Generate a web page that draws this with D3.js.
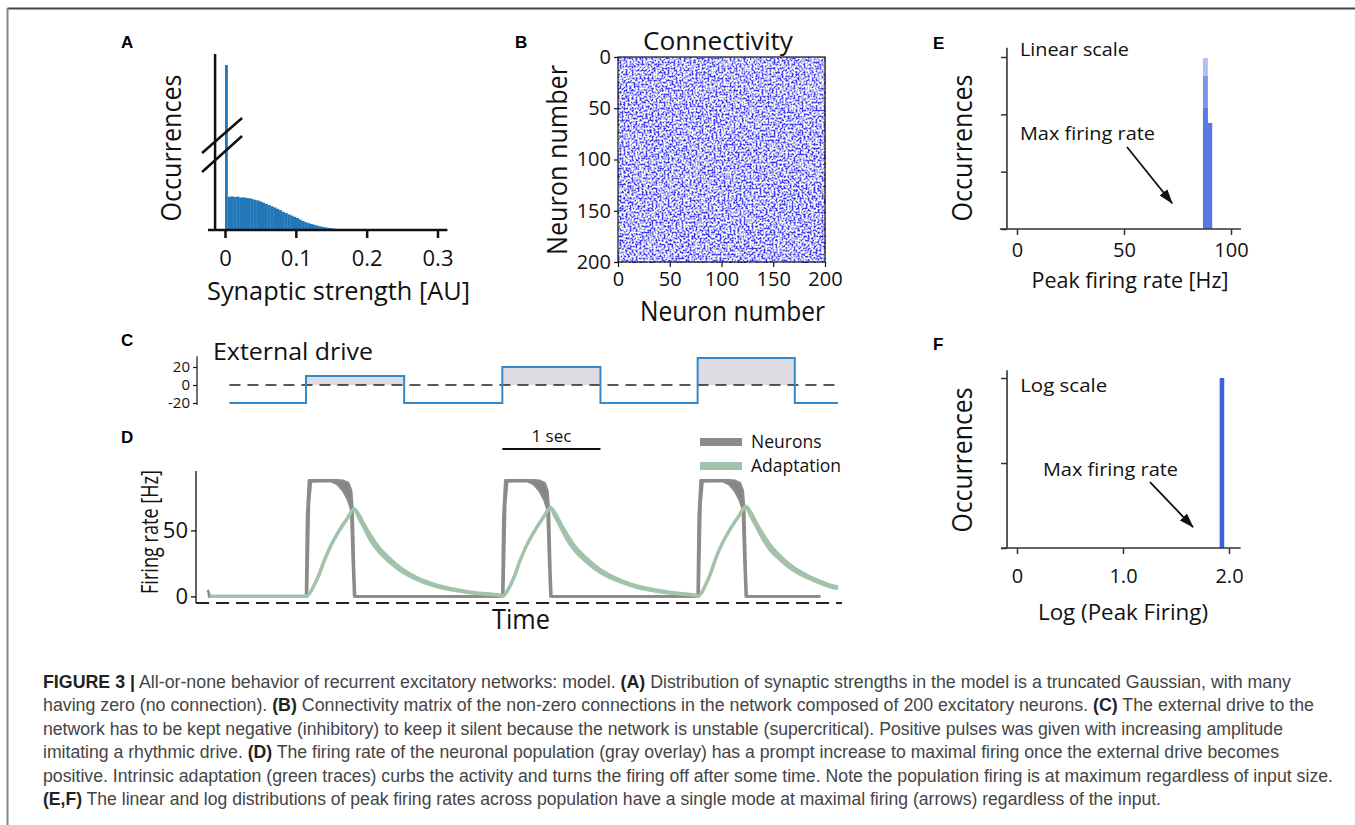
<!DOCTYPE html>
<html lang="en">
<head>
  <meta charset="UTF-8" />
  <title>Figure 3 - recurrent excitatory network model</title>
  <script src="https://d3js.org/d3.v7.min.js"></script>
  <style>
    body { margin: 0; background: #fff; }
    svg { display: block; font-family: "Open Sans", "Noto Sans", sans-serif; }
    .plabel { font-family: "Liberation Sans", Arial, sans-serif; font-weight: bold; font-size: 17px; }
    .cap { font-family: "Liberation Sans Narrow", "Liberation Sans", sans-serif; font-size: 17.5px; fill: #444; }
    .cap .b { font-weight: bold; fill: #222; }
  </style>
</head>
<body>
  <svg id="fig" width="1355" height="825"></svg>

  <script>
    // ---- A: synaptic strength histogram (bin width 0.004, first bin = zero weights)
    const strengthBinWidth = 0.004;
    const strengthCounts = [20000, 333, 336, 330, 334, 325, 327, 321, 318, 312, 302, 296, 286, 274, 262,
      250, 238, 226, 212, 198, 182, 170, 157, 145, 132, 120, 104, 90, 78, 68, 60, 52, 44, 37, 31,
      26, 21, 17, 14, 11, 9, 7, 5, 4, 3, 2];
    const strengthTicks = [0, 0.1, 0.2, 0.3];

    // ---- B: connectivity, mean density of 25x25 neuron blocks
    const connBlock = 25;
    const connDensity = [
      [0.88, 0.92, 0.86, 0.90, 0.84, 0.88, 0.90, 0.86],
      [0.92, 0.88, 0.90, 0.86, 0.90, 0.92, 0.86, 0.84],
      [0.90, 0.94, 0.88, 0.92, 0.88, 0.86, 0.90, 0.88],
      [0.86, 0.90, 0.92, 0.88, 0.92, 0.90, 0.88, 0.92],
      [0.90, 0.88, 0.86, 0.90, 0.88, 0.92, 0.90, 0.86],
      [0.92, 0.90, 0.88, 0.86, 0.90, 0.88, 0.92, 0.90],
      [0.88, 0.92, 0.90, 0.92, 0.86, 0.90, 0.88, 0.92],
      [0.90, 0.86, 0.92, 0.88, 0.90, 0.92, 0.86, 0.90]
    ];
    const neuronTicks = [0, 50, 100, 150, 200];

    // ---- C: external drive (step function, seconds)
    const driveT = [0.3, 1.08, 2.08, 3.08, 4.08, 5.07, 6.06, 6.5];
    const driveV = [-20, 10, -20, 20, -20, 30, -20, -20];
    const driveTicks = [20, 0, -20];

    // ---- D: firing rate envelope of the population and adaptation
    const neuronT = [0.08, 0.10,
      1.08, 1.09, 1.11, 1.13, 1.33, 1.40, 1.46, 1.51, 1.54, 1.555, 1.57, 1.58,
      3.08, 3.09, 3.11, 3.13, 3.33, 3.40, 3.46, 3.51, 3.54, 3.555, 3.57, 3.58,
      5.07, 5.08, 5.10, 5.12, 5.32, 5.39, 5.45, 5.50, 5.53, 5.545, 5.56, 5.57,
      6.32];
    const neuronLo = [0, 0,
      0, 0, 70, 87, 87.5, 85, 80, 73, 66, 30, 0, 0,
      0, 0, 70, 87, 87.5, 85, 80, 73, 66, 30, 0, 0,
      0, 0, 70, 87, 87.5, 85, 80, 73, 66, 30, 0, 0,
      0];
    const neuronHi = [5, 0,
      0, 60, 88, 88, 88, 88, 87.5, 86, 80, 65, 20, 0,
      0, 60, 88, 88, 88, 88, 87.5, 86, 80, 65, 20, 0,
      0, 60, 88, 88, 88, 88, 87.5, 86, 80, 65, 20, 0,
      0];
    const adaptT = [0.10,
      1.08, 1.13, 1.16, 1.21, 1.26, 1.33, 1.42, 1.50, 1.57, 1.62, 1.67, 1.74, 1.82, 1.93, 2.03, 2.13, 2.28, 2.44, 2.64, 2.84, 3.05,
      3.08, 3.13, 3.16, 3.21, 3.26, 3.33, 3.42, 3.50, 3.57, 3.62, 3.67, 3.74, 3.82, 3.93, 4.03, 4.13, 4.28, 4.44, 4.64, 4.84, 5.04,
      5.07, 5.12, 5.15, 5.20, 5.25, 5.32, 5.41, 5.49, 5.56, 5.61, 5.66, 5.73, 5.81, 5.92, 6.02, 6.12, 6.27, 6.43, 6.5];
    const adaptLo = [0,
      0, 4, 8, 16, 26, 38, 50, 59, 65.5, 59, 52, 42, 34, 26, 20, 15.5, 10.5, 6.8, 4, 2, 0.8,
      0, 4, 8, 16.5, 27, 39, 51, 60, 66.5, 60, 53, 43, 34.5, 26.5, 20.5, 16, 11, 7, 4, 2, 0.8,
      0, 4, 8.5, 17, 28, 40, 52, 61, 67.5, 61, 54, 44, 35, 27, 21, 16.5, 11.5, 7, 6];
    const adaptHi = [0,
      0, 4, 8, 16, 26, 38, 50, 59, 66.5, 62, 55, 46, 37.5, 29, 22.5, 17.5, 12, 8, 4.8, 2.6, 1,
      0, 4, 8, 16.5, 27, 39, 51, 60, 67.5, 63, 56, 47, 38, 29.5, 23, 18, 12.5, 8.2, 5, 2.7, 1,
      0, 4, 8.5, 17, 28, 40, 52, 61, 68.5, 64, 57, 48, 39, 30, 23.5, 18.5, 13, 8.5, 7.3];
    const rateTicks = [0, 50];
    const scaleBar = [3.08, 4.08];

    // ---- E, F: peak firing rate histograms (three overlaid pulses in E)
    const peakBins = [[86.9, 89.2], [89.2, 91.2]];
    const peakCounts = [[2.98, 1.85], [2.67, 1.85], [2.11, 1.85]];
    const logBins = [[1.912, 1.955]];
    const logCounts = [2];
    const linTicks = [0, 50, 100];
    const logTicks = [0, 1, 2];

    const svg = d3.select("#fig");
    svg.append("rect").attr("width", 1355).attr("height", 825).attr("fill", "#fff");

    // figure frame
    svg.append("line").attr("x1", 7.5).attr("x2", 1355).attr("y1", 8.5).attr("y2", 8.5)
      .attr("stroke", "#444").attr("stroke-width", 2);
    svg.append("line").attr("x1", 7.5).attr("x2", 7.5).attr("y1", 8).attr("y2", 825)
      .attr("stroke", "#888").attr("stroke-width", 2);

    function axisStyle(g, size, color, width) {
      g.attr("font-family", null).attr("font-size", null);
      g.selectAll(".tick line").attr("stroke", color).attr("stroke-width", width);
      g.selectAll(".tick text").attr("fill", color).style("font-size", size + "px");
      g.select(".domain").remove();
    }

    function title(x, y, txt, size, width, rotate) {
      const t = svg.append("text")
        .attr("text-anchor", "middle")
        .style("font-size", size + "px")
        .attr("fill", "#111")
        .text(txt);
      if (rotate) {
        t.attr("transform", `translate(${x},${y}) rotate(-90)`).attr("dy", "0.35em");
      } else {
        t.attr("x", x).attr("y", y);
      }
      if (width) t.attr("textLength", width).attr("lengthAdjust", "spacingAndGlyphs");
      return t;
    }

    [["A", 121, 48], ["B", 515, 48], ["C", 121, 346], ["D", 121, 443], ["E", 933, 49], ["F", 933, 350]]
      .forEach(([s, x, y]) => svg.append("text").attr("class", "plabel").attr("x", x).attr("y", y).text(s));

    // ================= A =================
    const xA = d3.scaleLinear().domain([0, 0.3]).range([225, 437.5]);
    const yA = d3.scaleLinear().domain([0, 600, 15000, 20000]).range([230, 170, 120, 65]);
    const aBins = strengthCounts.map((c, i) => ({ x0: i * strengthBinWidth, x1: (i + 1) * strengthBinWidth, c }));

    svg.append("g").selectAll("rect").data(aBins).join("rect")
      .attr("x", d => xA(d.x0))
      .attr("width", d => xA(d.x1) - xA(d.x0) + (d.x0 === 0 ? 0 : 0.3))
      .attr("y", d => yA(d.c))
      .attr("height", d => yA(0) - yA(d.c))
      .attr("fill", "#2177b8");

    const axA = svg.append("g").attr("transform", `translate(0,${yA(0)})`)
      .call(d3.axisBottom(xA).tickValues(strengthTicks)
        .tickFormat(d => d === 0 ? "0" : d3.format(".1f")(d)).tickSize(8).tickPadding(12));
    axisStyle(axA, 22, "#111", 2.5);
    svg.append("line").attr("x1", xA(-0.024)).attr("x2", xA(0.314)).attr("y1", yA(0)).attr("y2", yA(0))
      .attr("stroke", "#111").attr("stroke-width", 2.5);
    const axAx = xA(-0.014);
    svg.append("line").attr("x1", axAx).attr("x2", axAx).attr("y1", yA(0)).attr("y2", yA(21000))
      .attr("stroke", "#111").attr("stroke-width", 2.5);
    // axis break marks
    [[153, 118], [172, 136]].forEach(([ya, yb]) => {
      svg.append("line").attr("x1", axAx - 13).attr("y1", ya).attr("x2", axAx + 27).attr("y2", yb)
        .attr("stroke", "#111").attr("stroke-width", 2.5);
    });
    title(338.5, 300, "Synaptic strength [AU]", 26, 263);
    title(172, 148, "Occurrences", 27, 147, true);

    // ================= B =================
    const xB = d3.scaleLinear().domain([0, 200]).range([618, 825]);
    const yB = d3.scaleLinear().domain([0, 200]).range([57, 262]);

    const defs = svg.append("defs");
    const sp = defs.append("filter").attr("id", "speckle")
      .attr("x", 0).attr("y", 0).attr("width", 1).attr("height", 1)
      .attr("color-interpolation-filters", "sRGB");
    sp.append("feTurbulence").attr("type", "fractalNoise").attr("baseFrequency", 0.5)
      .attr("numOctaves", 2).attr("seed", 4).attr("result", "noise");
    sp.append("feColorMatrix").attr("in", "noise").attr("type", "matrix")
      .attr("values", "0 0 0 0 0  0 0 0 0 0  0 0 0 0 0  4.5 0 0 0 -1.9").attr("result", "mask");
    sp.append("feComposite").attr("in", "SourceGraphic").attr("in2", "mask").attr("operator", "in");

    svg.append("rect").attr("x", xB(0)).attr("y", yB(0)).attr("width", xB(200) - xB(0)).attr("height", yB(200) - yB(0))
      .attr("fill", "#fff");
    const cells = connDensity.flatMap((row, r) => row.map((v, c) => ({ r, c, v })));
    svg.append("g").attr("filter", "url(#speckle)").attr("shape-rendering", "crispEdges")
      .selectAll("rect").data(cells).join("rect")
      .attr("x", d => xB(d.c * connBlock))
      .attr("y", d => yB(d.r * connBlock))
      .attr("width", xB(connBlock) - xB(0) + 0.5)
      .attr("height", yB(connBlock) - yB(0) + 0.5)
      .attr("fill", "#2424f2")
      .attr("fill-opacity", d => d.v);
    svg.append("rect").attr("x", xB(0)).attr("y", yB(0)).attr("width", xB(200) - xB(0)).attr("height", yB(200) - yB(0))
      .attr("fill", "none").attr("stroke", "#111").attr("stroke-width", 1.2);

    const axBx = svg.append("g").attr("transform", `translate(0,${yB(200)})`)
      .call(d3.axisBottom(xB).tickValues(neuronTicks).tickSize(5).tickPadding(5));
    axisStyle(axBx, 20, "#111", 1.2);
    const axBy = svg.append("g").attr("transform", `translate(${xB(0)},0)`)
      .call(d3.axisLeft(yB).tickValues(neuronTicks).tickSize(4).tickPadding(3));
    axisStyle(axBy, 20, "#111", 1.2);
    title(718, 50, "Connectivity", 25, 150);
    title(732.5, 321, "Neuron number", 27, 185);
    title(558, 160, "Neuron number", 27, 190, true);

    // ================= C =================
    const xT = d3.scaleLinear().domain([0, 6.5]).range([200, 838]);
    const yC = d3.scaleLinear().domain([-20, 30]).range([403, 358]);
    const drive = driveT.map((t, i) => ({ t, v: driveV[i] }));

    svg.append("path").datum(drive)
      .attr("d", d3.area().curve(d3.curveStepAfter).x(d => xT(d.t)).y0(yC(0)).y1(d => yC(Math.max(d.v, 0))))
      .attr("fill", "#dcdce2");
    svg.append("line").attr("x1", xT(0.3)).attr("x2", xT(6.5)).attr("y1", yC(0)).attr("y2", yC(0))
      .attr("stroke", "#222").attr("stroke-width", 1.5).attr("stroke-dasharray", "11,7");
    svg.append("path").datum(drive)
      .attr("d", d3.line().curve(d3.curveStepAfter).x(d => xT(d.t)).y(d => yC(d.v)))
      .attr("fill", "none").attr("stroke", "#3589cb").attr("stroke-width", 2);

    const axC = svg.append("g").attr("transform", "translate(197,0)")
      .call(d3.axisLeft(yC).tickValues(driveTicks).tickFormat(d => String(d)).tickSize(4).tickPadding(3));
    axisStyle(axC, 15, "#111", 1.2);
    svg.append("line").attr("x1", 197).attr("x2", 197).attr("y1", yC(32)).attr("y2", yC(-22))
      .attr("stroke", "#111").attr("stroke-width", 1.2);
    svg.append("text").attr("x", 213).attr("y", 360).style("font-size", "24px").attr("fill", "#111")
      .attr("textLength", 160).attr("lengthAdjust", "spacingAndGlyphs").text("External drive");

    // ================= D =================
    const yD = d3.scaleLinear().domain([-5, 95]).range([603, 471]);
    const neurons = neuronT.map((t, i) => ({ t, lo: neuronLo[i], hi: neuronHi[i] }));
    const adapt = adaptT.map((t, i) => ({ t, lo: adaptLo[i], hi: adaptHi[i] }));
    const gray = "#8b8b8b", green = "#a2c3aa";

    svg.append("line").attr("x1", xT(-0.04)).attr("x2", xT(6.54)).attr("y1", yD(-5)).attr("y2", yD(-5))
      .attr("stroke", "#222").attr("stroke-width", 2).attr("stroke-dasharray", "13,7");

    svg.append("path").datum(neurons)
      .attr("d", d3.area().x(d => xT(d.t)).y0(d => yD(d.lo)).y1(d => yD(d.hi)))
      .attr("fill", "#858585");
    ["lo", "hi"].forEach(k => {
      svg.append("path").datum(neurons)
        .attr("d", d3.line().x(d => xT(d.t)).y(d => yD(d[k])))
        .attr("fill", "none").attr("stroke", gray).attr("stroke-width", 2.6).attr("stroke-linejoin", "round");
    });
    svg.append("path").datum(adapt)
      .attr("d", d3.area().curve(d3.curveMonotoneX).x(d => xT(d.t)).y0(d => yD(d.lo)).y1(d => yD(d.hi)))
      .attr("fill", green);
    ["lo", "hi"].forEach(k => {
      svg.append("path").datum(adapt)
        .attr("d", d3.line().curve(d3.curveMonotoneX).x(d => xT(d.t)).y(d => yD(d[k])))
        .attr("fill", "none").attr("stroke", green).attr("stroke-width", 3.2).attr("stroke-linejoin", "round");
    });

    const axD = svg.append("g").attr("transform", "translate(196,0)")
      .call(d3.axisLeft(yD).tickValues(rateTicks).tickSize(5).tickPadding(3));
    axisStyle(axD, 22, "#111", 1.3);
    svg.append("line").attr("x1", 196).attr("x2", 196).attr("y1", yD(-5)).attr("y2", yD(95))
      .attr("stroke", "#111").attr("stroke-width", 1.3);

    title(150, 532, "Firing rate [Hz]", 23, 124, true);
    title(521, 629, "Time", 27, 58);

    // scale bar
    svg.append("line").attr("x1", xT(scaleBar[0])).attr("x2", xT(scaleBar[1])).attr("y1", 449).attr("y2", 449)
      .attr("stroke", "#111").attr("stroke-width", 2);
    svg.append("text").attr("x", (xT(scaleBar[0]) + xT(scaleBar[1])) / 2).attr("y", 442)
      .attr("text-anchor", "middle").style("font-size", "17px").attr("fill", "#111").text("1 sec");

    // legend
    [["Neurons", gray, 442], ["Adaptation", green, 466]].forEach(([s, c, y]) => {
      svg.append("line").attr("x1", 700).attr("x2", 742).attr("y1", y).attr("y2", y)
        .attr("stroke", c).attr("stroke-width", 8);
      svg.append("text").attr("x", 751).attr("y", y + 6).style("font-size", "17.5px").attr("fill", "#111").text(s);
    });

    // ================= E =================
    const xE = d3.scaleLinear().domain([0, 100]).range([1017, 1231]);
    const yE = d3.scaleLinear().domain([0, 3]).range([229, 57]);
    const axisColor = "#333";

    peakCounts.forEach(series => {
      svg.append("g").selectAll("rect").data(series.map((v, i) => ({ b: peakBins[i], v }))).join("rect")
        .attr("x", d => xE(d.b[0]))
        .attr("width", d => xE(d.b[1]) - xE(d.b[0]))
        .attr("y", d => yE(d.v))
        .attr("height", d => yE(0) - yE(d.v))
        .attr("fill", "#0f41d7").attr("fill-opacity", 0.33);
    });

    const axEx = svg.append("g").attr("transform", `translate(0,${yE(0)})`)
      .call(d3.axisBottom(xE).tickValues(linTicks).tickSize(6).tickPadding(8));
    axisStyle(axEx, 20, "#111", 1.5);
    axEx.selectAll(".tick line").attr("stroke", axisColor);
    svg.append("line").attr("x1", xE(-8)).attr("x2", xE(104.7)).attr("y1", yE(0)).attr("y2", yE(0))
      .attr("stroke", axisColor).attr("stroke-width", 1.6);
    const axEy = svg.append("g").attr("transform", `translate(${xE(-4.7)},0)`)
      .call(d3.axisLeft(yE).tickValues([0, 1, 2, 3]).tickFormat("").tickSize(6));
    axisStyle(axEy, 20, axisColor, 1.5);
    svg.append("line").attr("x1", xE(-4.7)).attr("x2", xE(-4.7)).attr("y1", yE(0)).attr("y2", yE(3.16))
      .attr("stroke", axisColor).attr("stroke-width", 1.6);

    const marker = defs.append("marker").attr("id", "head").attr("markerUnits", "userSpaceOnUse")
      .attr("markerWidth", 15).attr("markerHeight", 10).attr("refX", 14).attr("refY", 5).attr("orient", "auto");
    marker.append("path").attr("d", "M0,0 L15,5 L0,10 Z").attr("fill", "#111");

    svg.append("text").attr("x", xE(1.4)).attr("y", yE(3.02)).style("font-size", "19px").attr("fill", "#111")
      .attr("textLength", 109).attr("lengthAdjust", "spacingAndGlyphs").text("Linear scale");
    svg.append("text").attr("x", xE(1.4)).attr("y", yE(1.55)).style("font-size", "19px").attr("fill", "#111")
      .attr("textLength", 135).attr("lengthAdjust", "spacingAndGlyphs").text("Max firing rate");
    svg.append("line").attr("x1", xE(51.4)).attr("y1", yE(1.43)).attr("x2", xE(72.5)).attr("y2", yE(0.45))
      .attr("stroke", "#111").attr("stroke-width", 1.8).attr("marker-end", "url(#head)");
    title(1130, 288, "Peak firing rate [Hz]", 22, 197);
    title(963, 148, "Occurrences", 27, 147, true);

    // ================= F =================
    const xF = d3.scaleLinear().domain([0, 2]).range([1017, 1229]);
    const yF = d3.scaleLinear().domain([0, 2]).range([548, 378]);

    svg.append("g").selectAll("rect").data(logCounts.map((v, i) => ({ b: logBins[i], v }))).join("rect")
      .attr("x", d => xF(d.b[0]))
      .attr("width", d => xF(d.b[1]) - xF(d.b[0]))
      .attr("y", d => yF(d.v))
      .attr("height", d => yF(0) - yF(d.v))
      .attr("fill", "#3d62de");

    const axFx = svg.append("g").attr("transform", `translate(0,${yF(0)})`)
      .call(d3.axisBottom(xF).tickValues(logTicks).tickFormat(d => d === 0 ? "0" : d3.format(".1f")(d))
        .tickSize(6).tickPadding(15));
    axisStyle(axFx, 20, "#111", 1.5);
    axFx.selectAll(".tick line").attr("stroke", axisColor);
    svg.append("line").attr("x1", xF(-0.15)).attr("x2", xF(2.11)).attr("y1", yF(0)).attr("y2", yF(0))
      .attr("stroke", axisColor).attr("stroke-width", 1.6);
    const axFy = svg.append("g").attr("transform", `translate(${xF(-0.094)},0)`)
      .call(d3.axisLeft(yF).tickValues([0, 1, 2]).tickFormat("").tickSize(6));
    axisStyle(axFy, 20, axisColor, 1.5);
    svg.append("line").attr("x1", xF(-0.094)).attr("x2", xF(-0.094)).attr("y1", yF(0)).attr("y2", yF(2.09))
      .attr("stroke", axisColor).attr("stroke-width", 1.6);

    svg.append("text").attr("x", xF(0.03)).attr("y", yF(1.835)).style("font-size", "19px").attr("fill", "#111")
      .attr("textLength", 87).attr("lengthAdjust", "spacingAndGlyphs").text("Log scale");
    svg.append("text").attr("x", xF(0.245)).attr("y", yF(0.85)).style("font-size", "19px").attr("fill", "#111")
      .attr("textLength", 135).attr("lengthAdjust", "spacingAndGlyphs").text("Max firing rate");
    svg.append("line").attr("x1", xF(1.255)).attr("y1", yF(0.776)).attr("x2", xF(1.66)).attr("y2", yF(0.247))
      .attr("stroke", "#111").attr("stroke-width", 1.8).attr("marker-end", "url(#head)");
    title(1123, 620, "Log (Peak Firing)", 22, 170);
    title(963, 460, "Occurrences", 27, 145, true);

    // ================= caption =================
    const captionLines = [
      [["FIGURE 3 |", 1], [" All-or-none behavior of recurrent excitatory networks: model. ", 0], ["(A)", 1],
        [" Distribution of synaptic strengths in the model is a truncated Gaussian, with many", 0]],
      [["having zero (no connection). ", 0], ["(B)", 1],
        [" Connectivity matrix of the non-zero connections in the network composed of 200 excitatory neurons. ", 0],
        ["(C)", 1], [" The external drive to the", 0]],
      [["network has to be kept negative (inhibitory) to keep it silent because the network is unstable (supercritical). Positive pulses was given with increasing amplitude", 0]],
      [["imitating a rhythmic drive. ", 0], ["(D)", 1],
        [" The firing rate of the neuronal population (gray overlay) has a prompt increase to maximal firing once the external drive becomes", 0]],
      [["positive. Intrinsic adaptation (green traces) curbs the activity and turns the firing off after some time. Note the population firing is at maximum regardless of input size.", 0]],
      [["(E,F)", 1], [" The linear and log distributions of peak firing rates across population have a single mode at maximal firing (arrows) regardless of the input.", 0]]
    ];
    const captionWidths = [1248, 1271, 1240, 1236, 1290, 1118];

    captionLines.forEach((segs, i) => {
      const t = svg.append("text").attr("class", "cap").attr("x", 43).attr("y", 688 + i * 23.4)
        .attr("textLength", captionWidths[i]).attr("lengthAdjust", "spacingAndGlyphs")
        .attr("xml:space", "preserve");
      segs.forEach(([s, b]) => t.append("tspan").attr("class", b ? "b" : null).text(s));
    });
  </script>
</body>
</html>
